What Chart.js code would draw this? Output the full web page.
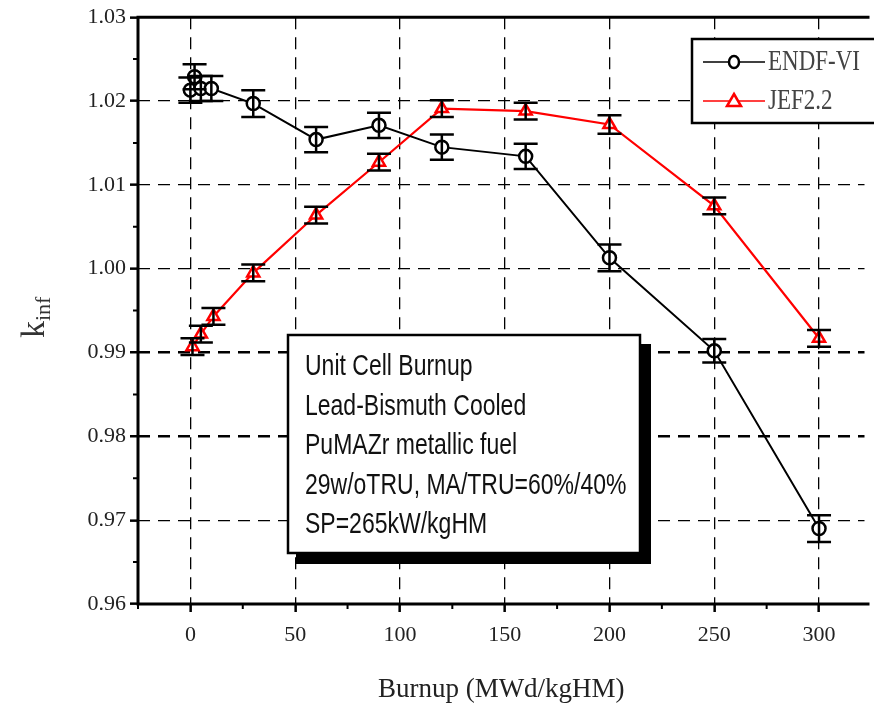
<!DOCTYPE html>
<html>
<head>
<meta charset="utf-8">
<script src="https://cdn.jsdelivr.net/npm/chart.js@4.4.0/dist/chart.umd.min.js"></script>
<style>
html, body { margin: 0; padding: 0; background: #fff; }
</style>
</head>
<body>
<canvas id="kinf" width="874" height="709"></canvas>
<script>
// values
var burnupEndf = [0, 2, 5, 10, 30, 60, 90, 120, 160, 200, 250, 300];
var kEndf      = [1.0213, 1.0229, 1.0215, 1.0215, 1.0197, 1.0154, 1.0171, 1.0145, 1.0134, 1.0013, 0.9902, 0.9690];
var errEndf    = [0.0015, 0.0015, 0.0015, 0.0015, 0.0016, 0.0015, 0.0015, 0.0015, 0.0015, 0.0016, 0.0014, 0.0016];

var burnupJef = [1, 5, 11, 30, 60, 90, 120, 160, 200, 250, 300];
var kJef      = [0.9907, 0.9922, 0.9943, 0.9995, 1.0064, 1.0127, 1.0191, 1.0188, 1.0172, 1.0075, 0.9917];
var errJef    = [0.0010, 0.0010, 0.0010, 0.0010, 0.0010, 0.0010, 0.0010, 0.0010, 0.0011, 0.0010, 0.0010];

var xTicks = [0, 50, 100, 150, 200, 250, 300];
var xMinorTicks = [-25, 25, 75, 125, 175, 225, 275];
var yTicks = [0.96, 0.97, 0.98, 0.99, 1.00, 1.01, 1.02, 1.03];
var yMinorTicks = [0.965, 0.975, 0.985, 0.995, 1.005, 1.015, 1.025];

var noteLines = [
    "Unit Cell Burnup",
    "Lead-Bismuth Cooled",
    "PuMAZr metallic fuel",
    "29w/oTRU, MA/TRU=60%/40%",
    "SP=265kW/kgHM"
];

var toPoints = function(xs, ys){
    return xs.map(function(x, i){ return {x: x, y: ys[i]}; });
};

var near = function(a, b){ return Math.abs(a - b) < 1e-6; };

// frame, minor ticks
var framePlugin = {
    id: "frame",
    afterDraw: function(chart){
        var c = chart.ctx, a = chart.chartArea;
        var xs = chart.scales.x, ys = chart.scales.y;
        c.save();
        c.strokeStyle = "#000";
        c.lineWidth = 3;
        c.beginPath();
        c.moveTo(a.left, a.top); c.lineTo(a.right + 5, a.top);
        c.moveTo(a.left, a.top - 1.5); c.lineTo(a.left, a.bottom + 1.5);
        c.moveTo(a.left - 1.5, a.bottom); c.lineTo(a.right + 5, a.bottom);
        c.stroke();
        c.lineWidth = 2;
        c.beginPath();
        xMinorTicks.forEach(function(v){
            var px = xs.getPixelForValue(v);
            c.moveTo(px, a.bottom); c.lineTo(px, a.bottom + 5);
        });
        yMinorTicks.forEach(function(v){
            var py = ys.getPixelForValue(v);
            c.moveTo(a.left, py); c.lineTo(a.left - 5, py);
        });
        c.stroke();
        c.restore();
    }
};

// the note box sits over the grid but under the data
var notePlugin = {
    id: "note",
    beforeDatasetsDraw: function(chart){
        var c = chart.ctx;
        var left = 288, top = 335, w = 352, h = 218;
        c.save();
        c.fillStyle = "#000";
        c.fillRect(left + 8, top + 9, w + 3, h + 2);
        c.fillStyle = "#fff";
        c.fillRect(left, top, w, h);
        c.strokeStyle = "#000";
        c.lineWidth = 2.5;
        c.strokeRect(left, top, w, h);
        c.fillStyle = "#111";
        c.font = "23px 'Liberation Sans', Arial, sans-serif";
        c.textBaseline = "alphabetic";
        noteLines.forEach(function(t, i){
            c.save();
            c.translate(305, 375 + i * 39.5);
            c.scale(1, 1.28);
            c.fillText(t, 0, 0);
            c.restore();
        });
        c.restore();
    }
};

var errorBarPlugin = {
    id: "errorBars",
    afterDatasetsDraw: function(chart){
        var c = chart.ctx;
        var xs = chart.scales.x, ys = chart.scales.y;
        c.save();
        c.strokeStyle = "#000";
        c.lineWidth = 2.5;
        chart.data.datasets.forEach(function(ds){
            ds.data.forEach(function(p, i){
                var px = xs.getPixelForValue(p.x);
                var hi = ys.getPixelForValue(p.y + ds.errors[i]);
                var lo = ys.getPixelForValue(p.y - ds.errors[i]);
                c.beginPath();
                c.moveTo(px, hi); c.lineTo(px, lo);
                c.moveTo(px - 12, hi); c.lineTo(px + 12, hi);
                c.moveTo(px - 12, lo); c.lineTo(px + 12, lo);
                c.stroke();
            });
        });
        c.restore();
    }
};

var legendPlugin = {
    id: "boxLegend",
    afterDraw: function(chart){
        var c = chart.ctx;
        c.save();
        c.fillStyle = "#fff";
        c.fillRect(692, 39, 190, 84);
        c.strokeStyle = "#000";
        c.lineWidth = 2.5;
        c.strokeRect(692, 39, 190, 84);
        var rowsY = [62, 101];
        chart.data.datasets.forEach(function(ds, i){
            var y = rowsY[i];
            c.strokeStyle = ds.borderColor;
            c.lineWidth = 1.5;
            c.beginPath();
            c.moveTo(703, y); c.lineTo(765, y);
            c.stroke();
            c.lineWidth = 2.5;
            c.beginPath();
            if (ds.pointStyle === "triangle"){
                c.moveTo(734, y - 7); c.lineTo(741, y + 5); c.lineTo(727, y + 5); c.closePath();
            } else {
                c.ellipse(734, y, 5, 6, 0, 0, Math.PI * 2);
            }
            c.fillStyle = "#fff";
            c.fill();
            c.stroke();
            c.fillStyle = "#444";
            c.font = "23px 'Liberation Serif', 'Times New Roman', serif";
            c.save();
            c.translate(768, y + 8);
            c.scale(1, 1.3);
            c.fillText(ds.label, 0, 0);
            c.restore();
        });
        c.restore();
    }
};

// k with subscript inf, rotated
var yTitlePlugin = {
    id: "yTitle",
    afterDraw: function(chart){
        var c = chart.ctx;
        c.save();
        c.translate(44, 338);
        c.rotate(-Math.PI / 2);
        c.fillStyle = "#333";
        c.font = "34px 'Liberation Serif', serif";
        c.fillText("k", 0, 0);
        var kw = c.measureText("k").width;
        c.font = "22px 'Liberation Serif', serif";
        c.fillText("inf", kw, 6);
        c.restore();
    }
};

var tickFont = { family: "'Liberation Serif', 'Times New Roman', serif", size: 22 };

var ctx = document.getElementById("kinf").getContext("2d");
var chart = new Chart(ctx, {
    type: "line",
    data: {
        datasets: [
            {
                label: "ENDF-VI",
                data: toPoints(burnupEndf, kEndf),
                errors: errEndf,
                borderColor: "#000",
                borderWidth: 2,
                pointStyle: "circle",
                pointRadius: 6.5,
                pointBorderWidth: 2.5,
                pointBorderColor: "#000",
                pointBackgroundColor: "#fff",
                tension: 0
            },
            {
                label: "JEF2.2",
                data: toPoints(burnupJef, kJef),
                errors: errJef,
                borderColor: "#ff0000",
                borderWidth: 2.2,
                pointStyle: "triangle",
                pointRadius: 7,
                pointBorderWidth: 2.5,
                pointBorderColor: "#ff0000",
                pointBackgroundColor: "#fff",
                tension: 0
            }
        ]
    },
    options: {
        responsive: false,
        animation: false,
        devicePixelRatio: 1,
        layout: { padding: { top: 14, right: 0, left: 0, bottom: 0 } },
        plugins: {
            legend: { display: false },
            tooltip: { enabled: false }
        },
        scales: {
            x: {
                type: "linear",
                min: -25,
                max: 321.7,
                afterBuildTicks: function(scale){
                    scale.ticks = xTicks.map(function(v){ return {value: v}; });
                },
                afterFit: function(scale){ scale.height = 105; },
                border: { display: false, dash: [12, 8] },
                grid: {
                    color: "#000",
                    lineWidth: 1.3,
                    drawTicks: true,
                    tickLength: 8,
                    tickColor: "#000",
                    tickWidth: 2.5,
                    tickBorderDash: []
                },
                ticks: {
                    font: tickFont,
                    color: "#222",
                    padding: 10,
                    maxRotation: 0,
                    callback: function(v){ return String(v); }
                },
                title: {
                    display: true,
                    text: "Burnup (MWd/kgHM)",
                    font: { family: "'Liberation Serif', 'Times New Roman', serif", size: 27 },
                    color: "#222",
                    padding: { top: 0, bottom: 3 }
                }
            },
            y: {
                type: "linear",
                min: 0.96,
                max: 1.03,
                afterBuildTicks: function(scale){
                    scale.ticks = yTicks.map(function(v){ return {value: v}; });
                },
                afterFit: function(scale){ scale.width = 138; },
                border: { display: false, dash: [12, 8] },
                grid: {
                    color: function(c){
                        var v = c.tick ? c.tick.value : 0;
                        return (near(v, 0.96) || near(v, 1.03)) ? "rgba(0,0,0,0)" : "#000";
                    },
                    lineWidth: function(c){
                        var v = c.tick ? c.tick.value : 0;
                        return (near(v, 0.99) || near(v, 0.98)) ? 2.5 : 1.3;
                    },
                    drawTicks: true,
                    tickLength: 8,
                    tickColor: "#000",
                    tickWidth: 2.5,
                    tickBorderDash: []
                },
                ticks: {
                    font: tickFont,
                    color: "#222",
                    padding: 4,
                    callback: function(v){ return Number(v).toFixed(2); }
                }
            }
        }
    },
    plugins: [framePlugin, notePlugin, errorBarPlugin, legendPlugin, yTitlePlugin]
});
</script>
</body>
</html>
